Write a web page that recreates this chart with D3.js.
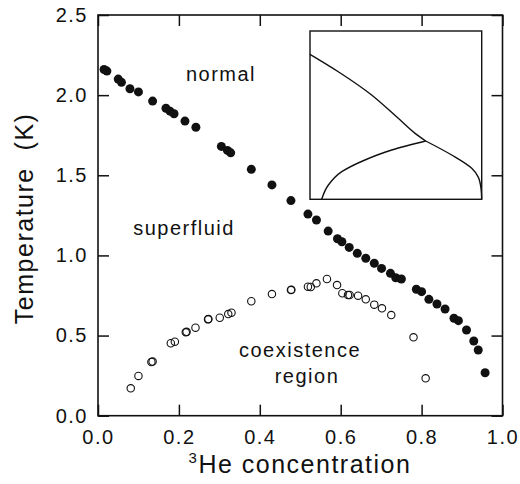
<!DOCTYPE html>
<html>
<head>
<meta charset="utf-8">
<script src="https://cdn.jsdelivr.net/npm/d3@7"></script>
<style>
  body { margin: 0; background: #fff; }
  text { font-family: "Liberation Sans", Arial, sans-serif; fill: #111; }
</style>
</head>
<body>
<div id="chart"></div>
<script>
// lambda line (filled) and phase-separation points (open)
const lambdaX = [0.015, 0.022, 0.05, 0.058, 0.079, 0.10, 0.135, 0.168, 0.178, 0.188, 0.215, 0.242,
  0.305, 0.32, 0.328, 0.379, 0.43, 0.477, 0.519, 0.54, 0.569, 0.592, 0.603, 0.621, 0.641, 0.662,
  0.683, 0.701, 0.723, 0.736, 0.75, 0.787, 0.80, 0.818, 0.838, 0.858, 0.88, 0.891, 0.911, 0.929, 0.94, 0.957];
const lambdaT = [2.16, 2.15, 2.10, 2.08, 2.04, 2.02, 1.963, 1.918, 1.90, 1.884, 1.838, 1.80,
  1.68, 1.655, 1.64, 1.537, 1.44, 1.342, 1.258, 1.221, 1.152, 1.104, 1.085, 1.05, 1.013, 0.982,
  0.951, 0.919, 0.888, 0.861, 0.853, 0.789, 0.774, 0.726, 0.697, 0.666, 0.608, 0.593, 0.535, 0.466, 0.41, 0.268];

const sepX = [0.081, 0.10, 0.132, 0.135, 0.18, 0.19, 0.217, 0.219, 0.241, 0.272, 0.273, 0.301, 0.322, 0.33,
  0.379, 0.43, 0.477, 0.478, 0.519, 0.526, 0.54, 0.566, 0.591, 0.604, 0.618, 0.622, 0.643, 0.662,
  0.683, 0.702, 0.725, 0.78, 0.81];
const sepT = [0.171, 0.248, 0.335, 0.338, 0.452, 0.462, 0.52, 0.523, 0.549, 0.601, 0.603, 0.611, 0.634, 0.643,
  0.714, 0.759, 0.784, 0.786, 0.805, 0.803, 0.826, 0.853, 0.815, 0.764, 0.753, 0.753, 0.749, 0.726,
  0.693, 0.67, 0.628, 0.489, 0.233];

// inset schematic curves
const insetUpper = [[0, 2.154], [0.165, 1.895], [0.359, 1.549], [0.514, 1.203], [0.612, 0.98], [0.674, 0.866]];
const insetRight = [[0.674, 0.866], [0.825, 0.658], [0.942, 0.46], [0.98, 0.33], [0.996, 0.16], [1.0, 0]];
const insetLower = [[0.068, 0], [0.107, 0.212], [0.185, 0.41], [0.32, 0.584], [0.476, 0.732], [0.674, 0.866]];

const xTicks = [0, 0.2, 0.4, 0.6, 0.8, 1.0];
const yTicks = [0, 0.5, 1.0, 1.5, 2.0, 2.5];

const W = 520, H = 484;
const svg = d3.select("#chart").append("svg")
  .attr("width", W).attr("height", H);

const x = d3.scaleLinear().domain([0, 1]).range([98, 502.5]);
const y = d3.scaleLinear().domain([0, 2.5]).range([415.7, 15]);

const tickLen = 11;
const fmt = d3.format(".1f");

// axes: ticks pointing inward on all four sides
const axB = svg.append("g").attr("transform", `translate(0,${y(0)})`)
  .call(d3.axisBottom(x).tickValues(xTicks).tickSize(-tickLen).tickPadding(14).tickFormat(fmt));
const axT = svg.append("g").attr("transform", `translate(0,${y(2.5)})`)
  .call(d3.axisTop(x).tickValues(xTicks).tickSize(-tickLen).tickFormat(""));
const axL = svg.append("g").attr("transform", `translate(${x(0)},0)`)
  .call(d3.axisLeft(y).tickValues(yTicks).tickSize(-tickLen).tickPadding(10).tickFormat(fmt));
const axR = svg.append("g").attr("transform", `translate(${x(1)},0)`)
  .call(d3.axisRight(y).tickValues(yTicks).tickSize(-tickLen).tickFormat(""));

[axB, axT, axL, axR].forEach(g => {
  g.select(".domain").remove();
  g.selectAll("line").attr("stroke", "#111").attr("stroke-width", 1.5);
  g.selectAll("text").attr("font-size", 20).attr("letter-spacing", 1.5)
    .attr("font-family", "Liberation Sans, Arial, sans-serif").attr("fill", "#111");
});

svg.append("rect")
  .attr("x", x(0)).attr("y", y(2.5))
  .attr("width", x(1) - x(0)).attr("height", y(0) - y(2.5))
  .attr("fill", "none").attr("stroke", "#111").attr("stroke-width", 1.6);

// data
svg.append("g").selectAll("circle").data(lambdaX).join("circle")
  .attr("cx", d => x(d)).attr("cy", (d, i) => y(lambdaT[i]))
  .attr("r", 4.5).attr("fill", "#111");

svg.append("g").selectAll("circle").data(sepX).join("circle")
  .attr("cx", d => x(d)).attr("cy", (d, i) => y(sepT[i]))
  .attr("r", 3.7).attr("fill", "none").attr("stroke", "#111").attr("stroke-width", 1.1);

// inset
const ix = d3.scaleLinear().domain([0, 1]).range([310, 481.7]);
const iy = d3.scaleLinear().domain([0, 2.5]).range([199.3, 31]);
const inset = svg.append("g");
inset.append("rect")
  .attr("x", ix(0)).attr("y", iy(2.5))
  .attr("width", ix(1) - ix(0)).attr("height", iy(0) - iy(2.5))
  .attr("fill", "#fff").attr("stroke", "#111").attr("stroke-width", 1.4);
const iline = d3.line().x(d => ix(d[0])).y(d => iy(d[1])).curve(d3.curveMonotoneX);
const ilineY = d3.line().x(d => ix(d[0])).y(d => iy(d[1])).curve(d3.curveMonotoneY);
[[insetUpper, iline], [insetRight, ilineY], [insetLower, ilineY]].forEach(([pts, gen]) => {
  inset.append("path").attr("d", gen(pts))
    .attr("fill", "none").attr("stroke", "#111").attr("stroke-width", 1.4);
});

// region labels
const labels = [
  { t: "normal", x: 221, y: 81 },
  { t: "superfluid", x: 184, y: 235 },
  { t: "coexistence", x: 300, y: 357 },
  { t: "region", x: 307, y: 383 }
];
svg.append("g").selectAll("text").data(labels).join("text")
  .attr("x", d => d.x).attr("y", d => d.y)
  .attr("text-anchor", "middle").attr("font-size", 20).attr("letter-spacing", 1.5)
  .text(d => d.t);

// axis titles
svg.append("text")
  .attr("transform", `translate(33,${(y(0) + y(2.5)) / 2 + 3}) rotate(-90)`)
  .attr("text-anchor", "middle").attr("font-size", 25).attr("letter-spacing", 1.5)
  .attr("xml:space", "preserve")
  .text("Temperature  (K)");

const xt = svg.append("text")
  .attr("x", 300).attr("y", 473)
  .attr("text-anchor", "middle").attr("font-size", 25).attr("letter-spacing", 1.5);
xt.append("tspan").attr("font-size", 15).attr("dy", -10).text("3");
xt.append("tspan").attr("dy", 10).text("He concentration");
</script>
</body>
</html>
